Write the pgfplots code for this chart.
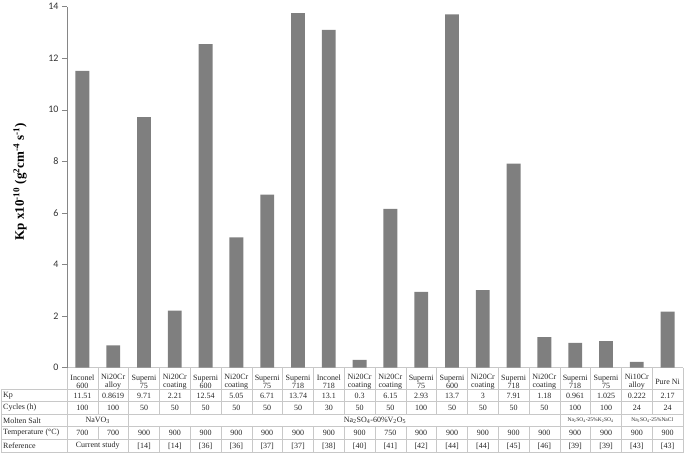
\documentclass[border=0pt]{standalone}
\usepackage{pgfplots}
\pgfplotsset{compat=1.18}
\usepackage{fontspec}
\setmainfont{Liberation Serif}
\newfontfamily\calibri{Carlito}
\definecolor{barc}{HTML}{7F7F7F}
\definecolor{axc}{HTML}{868686}
\definecolor{tblc}{HTML}{C8C8C8}
\begin{document}
\begin{tikzpicture}
\begin{axis}[
    name=ax,
    scale only axis,
    width=616pt, height=361pt,
    ybar,
    bar width=0.45,
    xmin=-0.5, xmax=19.5,
    ymin=0, ymax=14,
    ytick={0,2,...,14},
    xtick={0,...,19},
    xticklabels={{Inconel\\600},{Ni20Cr\\alloy},{Superni\\75},{Ni20Cr\\coating},{Superni\\600},{Ni20Cr\\coating},{Superni\\75},{Superni\\718},{Inconel\\718},{Ni20Cr\\coating},{Ni20Cr\\coating},{Superni\\75},{Superni\\600},{Ni20Cr\\coating},{Superni\\718},{Ni20Cr\\coating},{Superni\\718},{Superni\\75},{Ni10Cr\\alloy},{Pure Ni}},
    xticklabel style={anchor=center, yshift=-9.5pt, align=center, inner sep=0pt, font=\fontsize{8}{8.3}\selectfont, text=black!85},
    major x tick style={draw=none},
    axis y line=left, axis x line=bottom,
    y axis line style={-, draw=axc},
    x axis line style={-, draw=tblc},
    ytick style={draw=axc},
    tick align=outside,
    major tick length=5pt,
    yticklabel style={font=\calibri\fontsize{10}{12}\selectfont, text=black!80},
    /pgf/number format/assume math mode=true,
    ylabel={\textbf{Kp x10\textsuperscript{-10} (g\textsuperscript{2}cm\textsuperscript{-4} s\textsuperscript{-1})}},
    ylabel style={at={(axis description cs:-0.0763,0.515)}, anchor=center, font=\fontsize{13}{15}\selectfont},
    clip=false,
]
\addplot[fill=barc, draw=none] coordinates {
(0,11.51) (1,0.8619) (2,9.71) (3,2.21) (4,12.54) (5,5.05) (6,6.71) (7,13.74) (8,13.1) (9,0.3)
(10,6.15) (11,2.93) (12,13.7) (13,3) (14,7.91) (15,1.18) (16,0.961) (17,1.025) (18,0.222) (19,2.17)
};
\end{axis}
% data table below the chart
\begin{scope}[shift={(ax.south west)}, x=1pt, y=1pt, tbl/.style={draw=tblc, line width=0.5pt},
    every node/.style={font=\fontsize{8}{9}\selectfont, text=black!85, inner sep=0pt}]
\def\cw{30.8}
\foreach \y in {-22,-34,-47,-59,-72,-85} \draw[tbl] (-66,\y) -- (616,\y);
\draw[tbl] (-66,-22) -- (-66,-85);
\foreach \i in {0,...,20} \draw[tbl] ({\i*\cw},0) -- ({\i*\cw},-47);
\foreach \i in {0,2,16,18,20} \draw[tbl] ({\i*\cw},-47) -- ({\i*\cw},-59);
\foreach \i in {0,...,20} \draw[tbl] ({\i*\cw},-59) -- ({\i*\cw},-72);
\foreach \i in {0,2,3,...,20} \draw[tbl] ({\i*\cw},-72) -- ({\i*\cw},-85);
% row headers
\node[anchor=west] at (-64,-28) {Kp};
\node[anchor=west] at (-64,-40.5) {Cycles (h)};
\node[anchor=west] at (-64,-53) {Molten Salt};
\node[anchor=west] at (-64,-65.5) {Temperature (°C)};
\node[anchor=west] at (-64,-78.5) {Reference};
% Kp row
\foreach \v [count=\i from 0] in {11.51,0.8619,9.71,2.21,12.54,5.05,6.71,13.74,13.1,0.3,6.15,2.93,13.7,3,7.91,1.18,0.961,1.025,0.222,2.17}
  \node at ({(\i+0.5)*\cw},-28) {\v};
% cycles row
\foreach \v [count=\i from 0] in {100,100,50,50,50,50,50,50,30,50,50,100,50,50,50,50,100,100,24,24}
  \node at ({(\i+0.5)*\cw},-40.5) {\v};
% molten salt row
\node at ({1*\cw},-53) {NaVO\textsubscript{3}};
\node at ({10*\cw},-53) {Na\textsubscript{2}SO\textsubscript{4}-60\%V\textsubscript{2}O\textsubscript{5}};
\node[font=\fontsize{5.5}{6}\selectfont] at ({17*\cw},-53) {Na\textsubscript{2}SO\textsubscript{4}-25\%K\textsubscript{2}SO\textsubscript{4}};
\node[font=\fontsize{5.5}{6}\selectfont] at ({19*\cw},-53) {Na\textsubscript{2}SO\textsubscript{4}-25\%NaCl};
% temperature row
\foreach \v [count=\i from 0] in {700,700,900,900,900,900,900,900,900,900,750,900,900,900,900,900,900,900,900,900}
  \node at ({(\i+0.5)*\cw},-65.5) {\v};
% reference row
\node at ({1*\cw},-78.5) {Current study};
\foreach \v [count=\i from 2] in {[14],[14],[36],[36],[37],[37],[38],[40],[41],[42],[44],[44],[45],[46],[39],[39],[43],[43]}
  \node at ({(\i+0.5)*\cw},-78.5) {\v};
\path[use as bounding box] (-67,-87) rectangle (618,366);
\end{scope}
\end{tikzpicture}
\end{document}
